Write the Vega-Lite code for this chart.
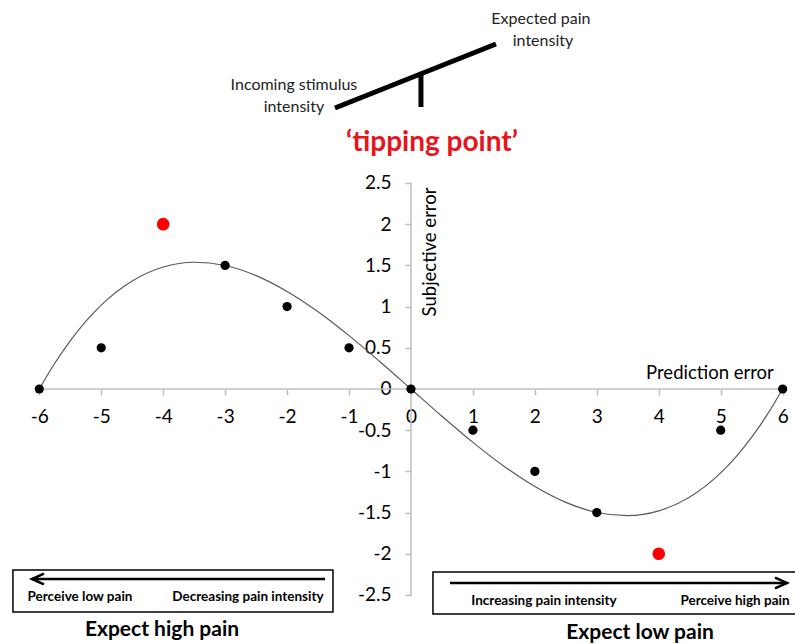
{
  "$schema": "https://vega.github.io/schema/vega-lite/v6.json",
  "width": 795,
  "height": 644,
  "autosize": {"type": "none"},
  "padding": 0,
  "background": "white",
  "config": {"view": {"stroke": null}, "font": "Lato"},
  "datasets": {
    "curve": [
      {"x": -6, "y": 0}, {"x": -5.75, "y": 0.312}, {"x": -5.5, "y": 0.585}, {"x": -5.25, "y": 0.82},
      {"x": -5, "y": 1.018}, {"x": -4.5, "y": 1.311}, {"x": -4, "y": 1.48}, {"x": -3.5, "y": 1.538},
      {"x": -3, "y": 1.499}, {"x": -2.5, "y": 1.376}, {"x": -2, "y": 1.184}, {"x": -1.5, "y": 0.937},
      {"x": -1, "y": 0.648}, {"x": -0.5, "y": 0.331}, {"x": 0, "y": 0},
      {"x": 0.5, "y": -0.331}, {"x": 1, "y": -0.648}, {"x": 1.5, "y": -0.937}, {"x": 2, "y": -1.184},
      {"x": 2.5, "y": -1.376}, {"x": 3, "y": -1.499}, {"x": 3.5, "y": -1.538}, {"x": 4, "y": -1.48},
      {"x": 4.5, "y": -1.311}, {"x": 5, "y": -1.018}, {"x": 5.25, "y": -0.82}, {"x": 5.5, "y": -0.585},
      {"x": 5.75, "y": -0.312}, {"x": 6, "y": 0}
    ],
    "points": [
      {"x": -6, "y": 0}, {"x": -5, "y": 0.5}, {"x": -3, "y": 1.5}, {"x": -2, "y": 1}, {"x": -1, "y": 0.5},
      {"x": 0, "y": 0}, {"x": 1, "y": -0.5}, {"x": 2, "y": -1}, {"x": 3, "y": -1.5}, {"x": 5, "y": -0.5}, {"x": 6, "y": 0}
    ],
    "highlighted": [{"x": -4, "y": 2}, {"x": 4, "y": -2}],
    "axislines": [
      {"x": -6, "y": 0, "x2": 6, "y2": 0},
      {"x": 0, "y": -2.5, "x2": 0, "y2": 2.5}
    ],
    "seesaw": [
      {"x": -1.227, "y": 3.41, "x2": 1.372, "y2": 4.187},
      {"x": 0.161, "y": 3.823, "x2": 0.161, "y2": 3.422}
    ],
    "boxes": [
      {"x": -6.425, "y": -2.197, "x2": -1.259, "y2": -2.706},
      {"x": 0.355, "y": -2.221, "x2": 6.3, "y2": -2.731}
    ],
    "arrows": [
      {"x": -6.118, "y": -2.306, "x2": -1.388, "y2": -2.306},
      {"x": 0.63, "y": -2.354, "x2": 6.07, "y2": -2.354}
    ],
    "arrowheads": [
      {"x": -6.118, "y": -2.306, "dir": "left"},
      {"x": 6.07, "y": -2.354, "dir": "right"}
    ],
    "seesawText": [
      {"x": -1.889, "y": 3.689, "label": "Incoming stimulus"},
      {"x": -1.889, "y": 3.422, "label": "intensity"},
      {"x": 2.098, "y": 4.49, "label": "Expected pain"},
      {"x": 2.131, "y": 4.223, "label": "intensity"}
    ],
    "tipping": [{"x": 0.339, "y": 2.985, "label": "‘tipping point’"}],
    "boxText": [
      {"x": -5.343, "y": -2.524, "label": "Perceive low pain"},
      {"x": -2.631, "y": -2.524, "label": "Decreasing pain intensity"},
      {"x": 2.147, "y": -2.573, "label": "Increasing pain intensity"},
      {"x": 5.23, "y": -2.573, "label": "Perceive high pain"}
    ],
    "expectText": [
      {"x": -4.019, "y": -2.925, "label": "Expect high pain"},
      {"x": 3.697, "y": -2.961, "label": "Expect low pain"}
    ],
    "xTitle": [{"x": 4.826, "y": 0.194, "label": "Prediction error"}],
    "yTitle": [{"x": 0.307, "y": 1.663, "label": "Subjective error"}]
  },
  "encoding": {
    "x": {
      "field": "x", "type": "quantitative",
      "scale": {"domain": [-6.634, 6.199], "nice": false, "zero": false},
      "axis": {
        "orient": "bottom", "offset": -255, "title": null,
        "values": [-6, -5, -4, -3, -2, -1, 0, 1, 2, 3, 4, 5, 6],
        "domain": false, "grid": false, "ticks": true,
        "tickColor": "#bfbfbf", "tickSize": 6, "tickWidth": 1.5,
        "labelFont": "Lato", "labelFontSize": 19, "labelColor": "black", "labelPadding": 12,
        "labelExpr": "toString(datum.value)",
        "labelOverlap": false, "labelFlush": false, "labelBound": false
      }
    },
    "y": {
      "field": "y", "type": "quantitative",
      "scale": {"domain": [-3.095, 4.721], "nice": false, "zero": false},
      "axis": {
        "orient": "left", "offset": -411, "title": null,
        "values": [-2.5, -2, -1.5, -1, -0.5, 0, 0.5, 1, 1.5, 2, 2.5],
        "domain": false, "grid": false, "ticks": true,
        "tickColor": "#bfbfbf", "tickSize": 6, "tickWidth": 1.5,
        "labelFont": "Lato", "labelFontSize": 19, "labelColor": "black", "labelPadding": 14,
        "labelExpr": "toString(datum.value)",
        "labelOverlap": false, "labelFlush": false, "labelBound": false
      }
    }
  },
  "layer": [
    {
      "data": {"name": "axislines"},
      "mark": {"type": "rule", "color": "#bfbfbf", "strokeWidth": 1.5},
      "encoding": {"x2": {"field": "x2"}, "y2": {"field": "y2"}}
    },
    {
      "data": {"name": "curve"},
      "mark": {"type": "line", "color": "#5a5a5a", "strokeWidth": 1.2, "interpolate": "monotone"},
      "encoding": {}
    },
    {
      "data": {"name": "points"},
      "mark": {"type": "point", "filled": true, "color": "black", "size": 85, "opacity": 1},
      "encoding": {}
    },
    {
      "data": {"name": "highlighted"},
      "mark": {"type": "point", "filled": true, "color": "#ff0000", "size": 160, "opacity": 1},
      "encoding": {}
    },
    {
      "data": {"name": "seesaw"},
      "mark": {"type": "rule", "color": "black", "strokeWidth": 5, "strokeCap": "butt"},
      "encoding": {"x2": {"field": "x2"}, "y2": {"field": "y2"}}
    },
    {
      "data": {"name": "boxes"},
      "mark": {"type": "rect", "filled": false, "stroke": "black", "strokeWidth": 1.5},
      "encoding": {"x2": {"field": "x2"}, "y2": {"field": "y2"}}
    },
    {
      "data": {"name": "arrows"},
      "mark": {"type": "rule", "color": "black", "strokeWidth": 2.5},
      "encoding": {"x2": {"field": "x2"}, "y2": {"field": "y2"}}
    },
    {
      "data": {"name": "arrowheads"},
      "mark": {"type": "point", "filled": false, "stroke": "black", "strokeWidth": 2.5, "size": 576, "opacity": 1},
      "encoding": {
        "shape": {
          "field": "dir", "type": "nominal", "legend": null,
          "scale": {"domain": ["left", "right"], "range": ["M1,-0.45L0,0L1,0.45", "M-1,-0.45L0,0L-1,0.45"]}
        }
      }
    },
    {
      "data": {"name": "seesawText"},
      "mark": {"type": "text", "font": "Lato", "fontSize": 16, "color": "#222", "align": "center", "baseline": "middle"},
      "encoding": {"text": {"field": "label"}}
    },
    {
      "data": {"name": "tipping"},
      "mark": {"type": "text", "font": "Lato", "fontSize": 28, "fontWeight": "bold", "color": "#e8141b", "align": "center", "baseline": "middle"},
      "encoding": {"text": {"field": "label"}}
    },
    {
      "data": {"name": "boxText"},
      "mark": {"type": "text", "font": "Lato", "fontSize": 13.5, "fontWeight": "bold", "color": "black", "align": "center", "baseline": "middle"},
      "encoding": {"text": {"field": "label"}}
    },
    {
      "data": {"name": "expectText"},
      "mark": {"type": "text", "font": "Lato", "fontSize": 21, "fontWeight": "bold", "color": "black", "align": "center", "baseline": "middle"},
      "encoding": {"text": {"field": "label"}}
    },
    {
      "data": {"name": "xTitle"},
      "mark": {"type": "text", "font": "Lato", "fontSize": 18.5, "color": "black", "align": "center", "baseline": "middle"},
      "encoding": {"text": {"field": "label"}}
    },
    {
      "data": {"name": "yTitle"},
      "mark": {"type": "text", "font": "Lato", "fontSize": 18.5, "color": "black", "align": "center", "baseline": "middle", "angle": 270},
      "encoding": {"text": {"field": "label"}}
    }
  ]
}
